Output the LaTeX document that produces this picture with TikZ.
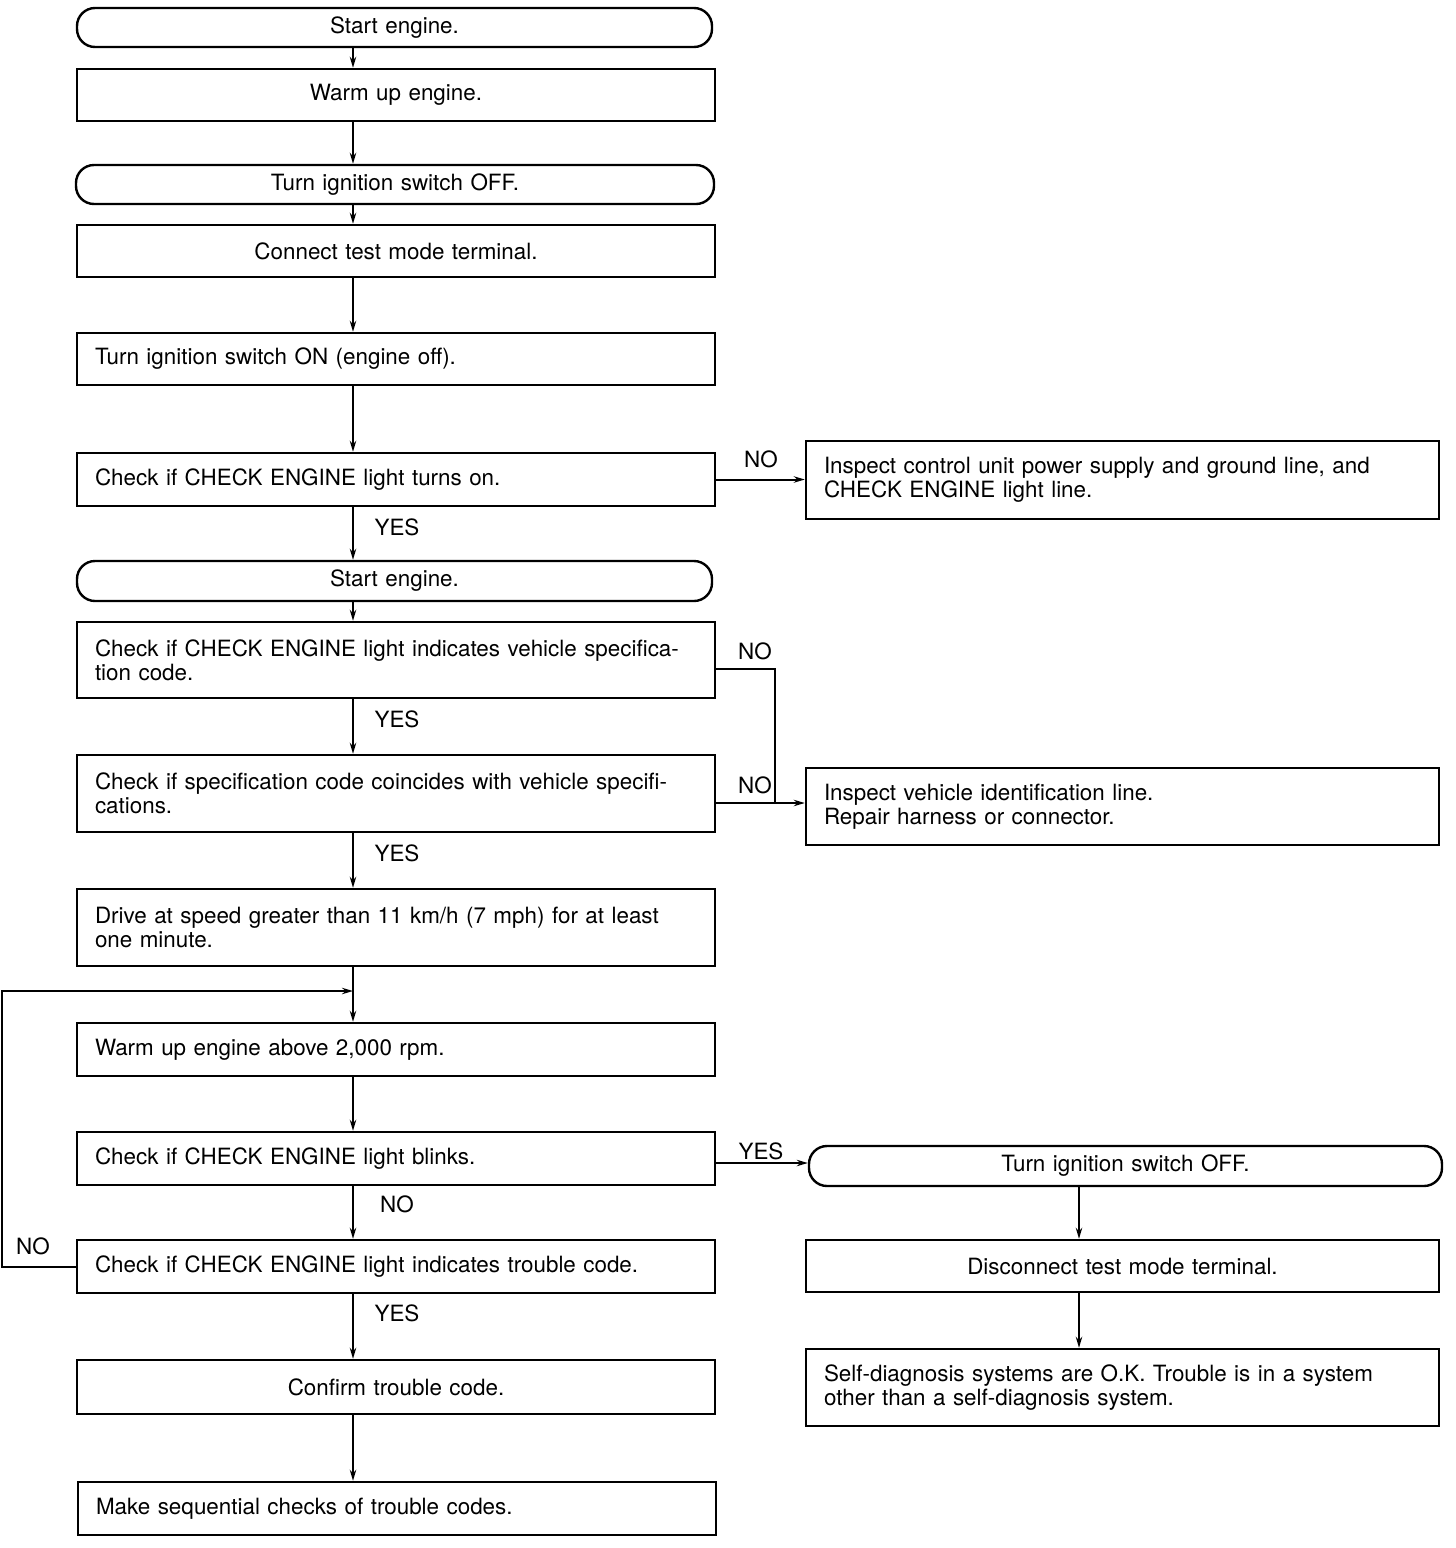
\documentclass[tikz,border=0pt]{standalone}
\usepackage{fontspec}
\setmainfont{TeX Gyre Heros}
\usetikzlibrary{arrows.meta}
\begin{document}
\begin{tikzpicture}[x=0.5pt,y=-0.5pt,
 box/.style={draw,line width=1.2pt,inner xsep=9pt,inner ysep=0pt,text width=301pt,font=\fontsize{11.2}{12}\selectfont},
 lbox/.style={box,align=left},
 cbox/.style={box,align=center},
 rbox/.style={box,text width=298.5pt,align=left},
 term/.style={cbox,rounded corners=9pt},
 arr/.style={line width=1pt,-{Stealth[length=5.5pt,width=3.2pt]}},
 ln/.style={line width=1pt},
 lbl/.style={font=\fontsize{11.2}{12}\selectfont,inner sep=0pt}
]
\useasboundingbox (0,0) rectangle (1456,1548);
\coordinate (ax) at (353,0);
\coordinate (rx) at (1079,0);
\coordinate (y669) at (0,669);
\coordinate (j) at (775,803);
\coordinate (y1163) at (0,1163);
\coordinate (lp) at (2,991);

\node[term,minimum height=19.5pt,text width=299.5pt] (b1) at (394.5,27.5) {Start engine.};
\node[cbox,minimum height=26pt] (b2) at (396,95) {Warm up engine.};
\node[term,minimum height=19.5pt] (b3) at (395,184.5) {Turn ignition switch OFF.};
\node[cbox,minimum height=26pt] (b4) at (396,251) {Connect test mode terminal.};
\node[lbox,minimum height=26pt] (b5) at (396,359) {Turn ignition switch ON (engine off).};
\node[lbox,minimum height=26.5pt] (b6) at (396,479.5) {Check if CHECK ENGINE light turns on.};
\node[rbox,minimum height=39pt] (r1) at (1122.5,480) {Inspect control unit power supply and ground line, and\\CHECK ENGINE light line.};
\node[term,minimum height=20pt,text width=299.5pt] (b7) at (394.5,581) {Start engine.};
\node[lbox,minimum height=38pt] (b8) at (396,660) {Check if CHECK ENGINE light indicates vehicle specifica-\\tion code.};
\node[lbox,minimum height=38.5pt] (b9) at (396,793.5) {Check if specification code coincides with vehicle specifi-\\cations.};
\node[rbox,minimum height=38.5pt] (r2) at (1122.5,806.5) {Inspect vehicle identification line.\\Repair harness or connector.};
\node[lbox,minimum height=38.5pt] (b10) at (396,927.5) {Drive at speed greater than 11 km/h (7 mph) for at least\\one minute.};
\node[lbox,minimum height=26.5pt] (b11) at (396,1049.5) {Warm up engine above 2,000 rpm.};
\node[lbox,minimum height=26.5pt] (b12) at (396,1158.5) {Check if CHECK ENGINE light blinks.};
\node[lbox,minimum height=26.5pt] (b13) at (396,1266.5) {Check if CHECK ENGINE light indicates trouble code.};
\node[cbox,minimum height=27pt] (b14) at (396,1387) {Confirm trouble code.};
\node[lbox,minimum height=26.5pt] (b15) at (397,1508.5) {Make sequential checks of trouble codes.};
\node[term,minimum height=20pt,text width=298.5pt] (r3) at (1125.5,1166) {Turn ignition switch OFF.};
\node[cbox,text width=298.5pt,minimum height=26pt] (r4) at (1122.5,1266) {Disconnect test mode terminal.};
\node[rbox,minimum height=38.5pt] (r5) at (1122.5,1387.5) {Self-diagnosis systems are O.K. Trouble is in a system\\other than a self-diagnosis system.};

% main axis arrows
\draw[arr] (b1.south -| ax) -- (b2.north -| ax);
\draw[arr] (b2.south -| ax) -- (b3.north -| ax);
\draw[arr] (b3.south -| ax) -- (b4.north -| ax);
\draw[arr] (b4.south -| ax) -- (b5.north -| ax);
\draw[arr] (b5.south -| ax) -- (b6.north -| ax);
\draw[arr] (b6.south -| ax) -- (b7.north -| ax);
\draw[arr] (b7.south -| ax) -- (b8.north -| ax);
\draw[arr] (b8.south -| ax) -- (b9.north -| ax);
\draw[arr] (b9.south -| ax) -- (b10.north -| ax);
\draw[arr] (b10.south -| ax) -- (b11.north -| ax);
\draw[arr] (b11.south -| ax) -- (b12.north -| ax);
\draw[arr] (b12.south -| ax) -- (b13.north -| ax);
\draw[arr] (b13.south -| ax) -- (b14.north -| ax);
\draw[arr] (b14.south -| ax) -- (b15.north -| ax);
% right column
\draw[arr] (r3.south -| rx) -- (r4.north -| rx);
\draw[arr] (r4.south -| rx) -- (r5.north -| rx);
% branches
\draw[arr] (b6.east) -- (b6.east -| r1.west);
\draw[ln] (b8.east |- y669) -| (j);
\draw[arr] (b9.east |- j) -- (r2.west |- j);
\draw[arr] (b12.east |- y1163) -- (r3.west |- y1163);
\draw[arr] (b13.west) -| (lp) -- (ax |- lp);

% labels
\node[lbl] (n1) at (761,459) {NO};
\node[lbl] (n2) at (755,651) {NO};
\node[lbl] (n3) at (755,785) {NO};
\node[lbl] (n4) at (33,1246) {NO};
\node[lbl] (n5) at (397,1204) {NO};
\node[lbl] (y1) at (397,527) {YES};
\node[lbl] (y2) at (397,719) {YES};
\node[lbl] (y3) at (397,853) {YES};
\node[lbl] (y4) at (397,1313) {YES};
\node[lbl] (y5) at (761,1151) {YES};
\end{tikzpicture}
\end{document}
